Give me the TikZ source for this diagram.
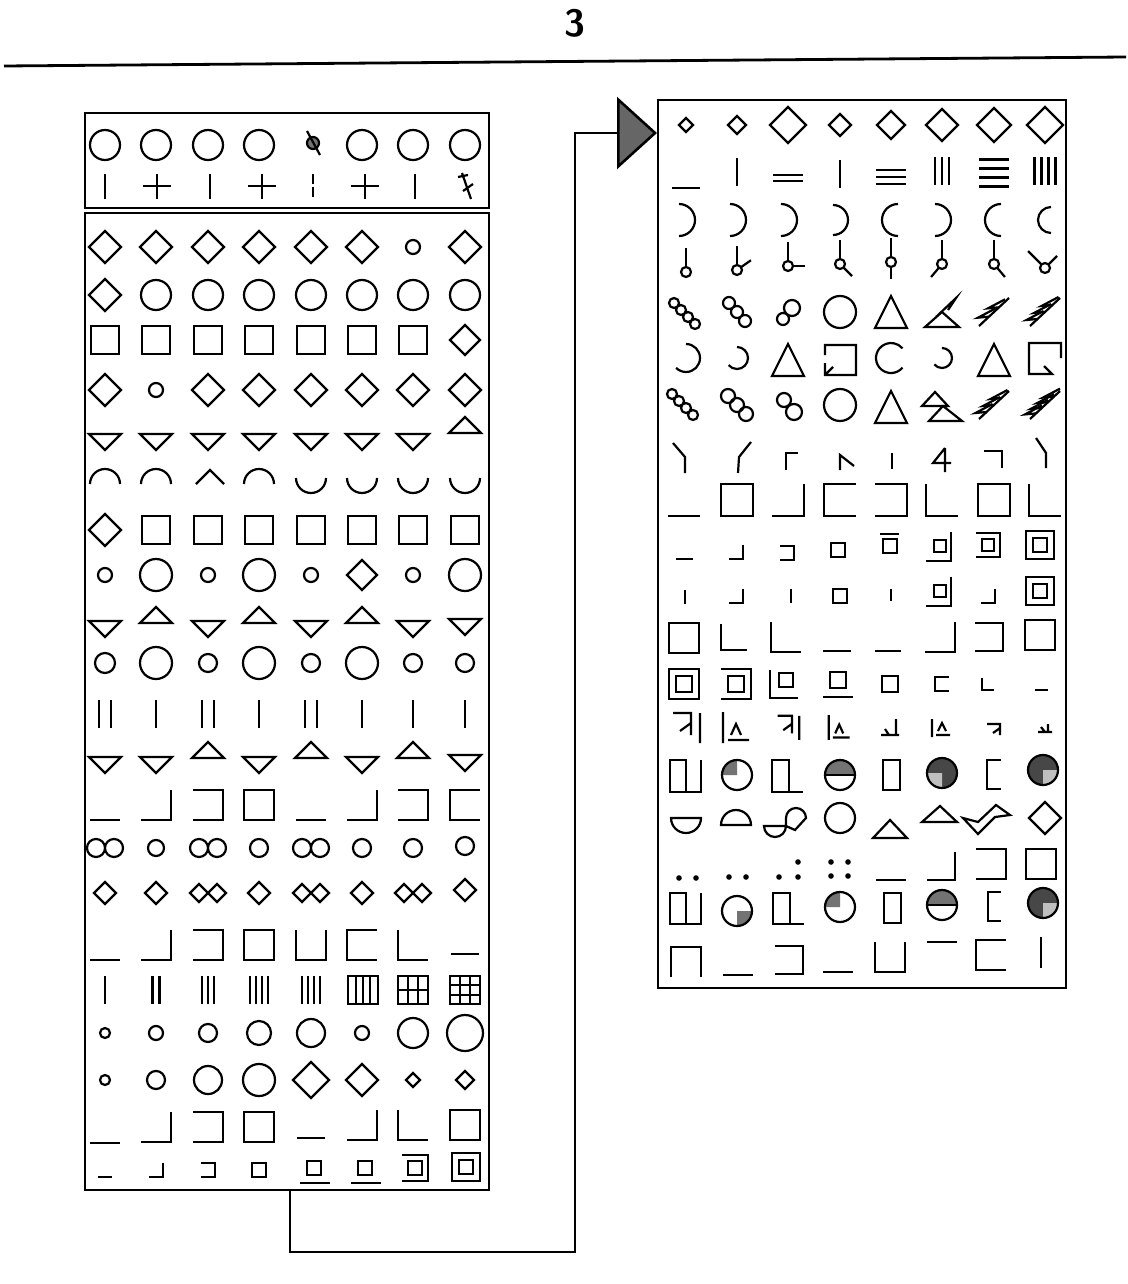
\documentclass[tikz,border=0pt]{standalone}
\usepackage{tikz}
\usetikzlibrary{arrows.meta}
\tikzset{
  frame/.style={line width=1.4pt},
  link/.style={line width=1.3pt,-{Triangle[length=20pt,width=36pt,fill=black!60]}},
  shade1/.style={black!55},
  shade2/.style={black!72},
  pics/dia/.style={code={\draw (-#1,0)--(0,-#1)--(#1,0)--(0,#1)--cycle;}},
  pics/sq/.style={code={\draw (-#1,-#1) rectangle (#1,#1);}},
  pics/ring/.style={code={\draw (0,0) circle[radius=#1];}},
  pics/tdn/.style={code={\draw (-#1,-#1/2)--(#1,-#1/2)--(0,#1/2)--cycle;}},
  pics/tup/.style={code={\draw (-#1,#1/2)--(#1,#1/2)--(0,-#1/2)--cycle;}},
  pics/tri/.style={code={\draw (-#1,#1)--(#1,#1)--(0,-#1)--cycle;}},
  pics/bot/.style={code={\draw (-#1,#1)--(#1,#1);}},
  pics/botr/.style={code={\draw (-#1,#1)--(#1,#1)--(#1,-#1);}},
  pics/ell/.style={code={\draw (-#1,-#1)--(-#1,#1)--(#1,#1);}},
  pics/opl/.style={code={\draw (-#1,-#1)--(#1,-#1)--(#1,#1)--(-#1,#1);}},
  pics/opr/.style={code={\draw (#1,-#1)--(-#1,-#1)--(-#1,#1)--(#1,#1);}},
  pics/opt/.style={code={\draw (-#1,-#1)--(-#1,#1)--(#1,#1)--(#1,-#1);}},
  pics/opb/.style={code={\draw (-#1,#1)--(-#1,-#1)--(#1,-#1)--(#1,#1);}},
  pics/twin/.style={code={\draw (-#1,0) circle[radius=#1] (#1,0) circle[radius=#1];}},
  pics/twindia/.style={code={\draw (-2*#1,0)--(-#1,-#1)--(0,0)--(-#1,#1)--cycle (0,0)--(#1,-#1)--(2*#1,0)--(#1,#1)--cycle;}},
  pics/vbars/.style 2 args={code={\foreach \k in {1,...,#1}{\draw ({(\k-(#1+1)/2)*#2},-14)--({(\k-(#1+1)/2)*#2},14);}}},
  pics/hbars/.style 2 args={code={\foreach \k in {1,...,#1}{\draw (-15,{(\k-(#1+1)/2)*#2})--(15,{(\k-(#1+1)/2)*#2});}}},
  pics/stick/.style 2 args={code={\draw (0,0) circle[radius=5]; \draw (#1:5)--(#1:24); \draw (#2:5)--(#2:17);}},
  pics/saw/.style={code={\draw (-15,14)--(15,-14); \foreach \k in {1,...,#1}{\draw ({-15+\k*30/(#1+1)},{14-\k*28/(#1+1)})--++(-11,1)--++(17,-9);}}},
}
\begin{document}
\begin{tikzpicture}[x=.5pt,y=-.5pt,line width=1.1pt]
\path[use as bounding box] (0,0) rectangle (1128,1284);
\node[font=\sffamily\bfseries\fontsize{19}{20}\selectfont] (pagenum) at (575,23) {3};
\draw[frame] (4,66)--(1126,57);

\draw[frame] (85,113) rectangle (489,208);
\draw[frame] (85,213) rectangle (489,1190);
\draw[frame] (658,100) rectangle (1066,988);

\coordinate (leftfoot) at (290,1190);
\coordinate (rightentry) at (657,133);
\draw[link] (leftfoot) |- (575,1252) -- (575,133) -- (rightentry);

\pic at (105,145) {ring=15}; \pic at (156,145) {ring=15}; \pic at (208,145) {ring=15}; \pic at (259,145) {ring=15};
\fill[shade1] (313,143) circle[radius=6]; \draw (313,143) circle[radius=6]; \draw (307,131)--(320,155);
\pic at (362,145) {ring=15}; \pic at (413,145) {ring=15}; \pic at (465,145) {ring=15};
\draw (105,174)--(105,199);
\draw (143,186)--(171,186) (157,174)--(157,199);
\draw (210,174)--(210,199);
\draw (248,186)--(276,186) (262,174)--(262,199);
\draw[dash pattern=on 5pt off 1.5pt] (313,174)--(313,199);
\draw[line width=1.4pt] (415,174)--(415,199);
\draw (351,186)--(379,186) (365,174)--(365,199);
\draw (462,173)--(471,199) (458,177)--(468,175) (463,191)--(473,184);

\pic at (105,247) {dia=16}; \pic at (156,247) {dia=16}; \pic at (208,247) {dia=16}; \pic at (259,247) {dia=16};
\pic at (311,247) {dia=16}; \pic at (362,247) {dia=16}; \pic at (413,247) {ring=7}; \pic at (465,247) {dia=16};

\pic at (105,295) {dia=16}; \pic at (156,295) {ring=15}; \pic at (208,295) {ring=15}; \pic at (259,295) {ring=15};
\pic at (311,295) {ring=15}; \pic at (362,295) {ring=15}; \pic at (413,295) {ring=15}; \pic at (465,295) {ring=15};

\pic at (105,340) {sq=14}; \pic at (156,340) {sq=14}; \pic at (208,340) {sq=14}; \pic at (259,340) {sq=14};
\pic at (311,340) {sq=14}; \pic at (362,340) {sq=14}; \pic at (413,340) {sq=14}; \pic at (465,340) {dia=15};

\pic at (105,390) {dia=16}; \pic at (156,390) {ring=7}; \pic at (208,390) {dia=16}; \pic at (259,390) {dia=16};
\pic at (311,390) {dia=16}; \pic at (362,390) {dia=16}; \pic at (413,390) {dia=16}; \pic at (465,390) {dia=16};

\pic at (105,442) {tdn=16}; \pic at (156,442) {tdn=16}; \pic at (208,442) {tdn=16}; \pic at (259,442) {tdn=16};
\pic at (311,442) {tdn=16}; \pic at (362,442) {tdn=16}; \pic at (413,442) {tdn=16}; \pic at (465,425) {tup=16};

\draw (90,484) arc[start angle=180,end angle=360,radius=15];
\draw (141,484) arc[start angle=180,end angle=360,radius=15];
\draw (196,484)--(210,470)--(224,484);
\draw (244,484) arc[start angle=180,end angle=360,radius=15];
\draw (296,478) arc[start angle=180,end angle=0,radius=15];
\draw (347,478) arc[start angle=180,end angle=0,radius=15];
\draw (398,478) arc[start angle=180,end angle=0,radius=15];
\draw (450,478) arc[start angle=180,end angle=0,radius=15];

\pic at (105,530) {dia=16}; \pic at (156,530) {sq=14}; \pic at (208,530) {sq=14}; \pic at (259,530) {sq=14};
\pic at (311,530) {sq=14}; \pic at (362,530) {sq=14}; \pic at (413,530) {sq=14}; \pic at (465,530) {sq=14};

\pic at (105,575) {ring=7}; \pic at (156,575) {ring=16}; \pic at (208,575) {ring=7}; \pic at (259,575) {ring=16};
\pic at (311,575) {ring=7}; \pic at (362,575) {dia=15}; \pic at (413,575) {ring=7}; \pic at (465,575) {ring=16};

\pic at (105,629) {tdn=16}; \pic at (156,615) {tup=16}; \pic at (208,629) {tdn=16}; \pic at (259,615) {tup=16};
\pic at (311,629) {tdn=16}; \pic at (362,615) {tup=16}; \pic at (413,629) {tdn=16}; \pic at (465,627) {tdn=16};

\pic at (105,663) {ring=10}; \pic at (156,663) {ring=16}; \pic at (208,663) {ring=9}; \pic at (259,663) {ring=16};
\pic at (311,663) {ring=9}; \pic at (362,663) {ring=16}; \pic at (413,663) {ring=9}; \pic at (465,663) {ring=9};

\pic at (105,714) {vbars={2}{12}}; \pic at (156,714) {vbars={1}{1}}; \pic at (208,714) {vbars={2}{12}}; \pic at (259,714) {vbars={1}{1}};
\pic at (311,714) {vbars={2}{12}}; \pic at (362,714) {vbars={1}{1}}; \pic at (413,714) {vbars={1}{1}}; \pic at (465,714) {vbars={1}{1}};

\pic at (105,765) {tdn=16}; \pic at (156,765) {tdn=16}; \pic at (208,750) {tup=16}; \pic at (259,765) {tdn=16};
\pic at (311,750) {tup=16}; \pic at (362,765) {tdn=16}; \pic at (413,750) {tup=16}; \pic at (465,763) {tdn=16};

\pic at (105,805) {bot=15}; \pic at (156,805) {botr=15}; \pic at (208,805) {opl=15}; \pic at (259,805) {sq=15};
\pic at (311,805) {bot=15}; \pic at (362,805) {botr=15}; \pic at (413,805) {opl=15}; \pic at (465,805) {opr=15};

\pic at (105,848) {twin=9}; \pic at (156,848) {ring=8}; \pic at (208,848) {twin=9}; \pic at (259,848) {ring=9};
\pic at (311,848) {twin=9}; \pic at (362,848) {ring=9}; \pic at (413,848) {ring=9}; \pic at (465,846) {ring=9};

\pic at (105,893) {dia=11}; \pic at (156,893) {dia=11}; \pic at (208,893) {twindia=9}; \pic at (259,893) {dia=11};
\pic at (311,893) {twindia=9}; \pic at (362,893) {dia=11}; \pic at (413,893) {twindia=9}; \pic at (465,890) {dia=11};

\pic at (105,945) {bot=15}; \pic at (156,945) {botr=15}; \pic at (208,945) {opl=15}; \pic at (259,945) {sq=15};
\pic at (311,945) {opt=15}; \pic at (362,945) {opr=15}; \pic at (413,945) {ell=15}; \pic at (465,940) {bot=14};

\pic at (105,990) {vbars={1}{1}}; \pic at (156,990) {vbars={2}{7}}; \pic at (208,990) {vbars={3}{6}};
\pic at (259,990) {vbars={4}{6}}; \pic at (311,990) {vbars={4}{6}};
\draw (348,976) rectangle (378,1004); \draw (356,976)--(356,1004) (363,976)--(363,1004) (370,976)--(370,1004);
\draw (398,976) rectangle (428,1004); \draw (408,976)--(408,1004) (418,976)--(418,1004) (398,990)--(428,990);
\draw (450,976) rectangle (480,1004); \draw (460,976)--(460,1004) (470,976)--(470,1004) (450,985)--(480,985) (450,995)--(480,995);

\pic at (105,1033) {ring=5}; \pic at (156,1033) {ring=7}; \pic at (208,1033) {ring=9}; \pic at (259,1033) {ring=12};
\pic at (311,1033) {ring=14}; \pic at (362,1033) {ring=7}; \pic at (413,1033) {ring=15}; \pic at (465,1033) {ring=18};

\pic at (105,1080) {ring=5}; \pic at (156,1080) {ring=9}; \pic at (208,1080) {ring=14}; \pic at (259,1080) {ring=16};
\pic at (311,1080) {dia=18}; \pic at (362,1080) {dia=16}; \pic at (413,1080) {dia=7}; \pic at (465,1080) {dia=9};

\pic at (105,1128) {bot=15}; \pic at (156,1127) {botr=15}; \pic at (208,1127) {opl=15}; \pic at (259,1127) {sq=15};
\pic at (311,1124) {bot=14}; \pic at (362,1125) {botr=15}; \pic at (413,1125) {ell=15}; \pic at (465,1125) {sq=15};

\pic at (105,1170) {bot=7}; \pic at (156,1170) {botr=7}; \pic at (208,1170) {opl=7}; \pic at (259,1170) {sq=7};
\pic at (314,1168) {sq=7}; \draw (300,1183)--(330,1183);
\pic at (365,1168) {sq=7}; \draw (351,1183)--(381,1183);
\pic at (415,1168) {sq=7}; \pic at (415,1168) {opl=13};
\pic at (466,1167) {sq=7}; \pic at (466,1167) {sq=14};

\pic at (686,125) {dia=7}; \pic at (737,125) {dia=9}; \pic at (788,125) {dia=18}; \pic at (840,125) {dia=11};
\pic at (891,125) {dia=14}; \pic at (942,125) {dia=16}; \pic at (994,125) {dia=17}; \pic at (1045,125) {dia=18};

\draw (672,188)--(700,188);
\pic at (737,172) {vbars={1}{1}}; \pic at (788,178) {hbars={2}{6}}; \pic at (840,174) {vbars={1}{1}};
\pic at (891,177) {hbars={3}{7}}; \pic at (942,171) {vbars={3}{7}}; \pic at (994,173) {hbars={4}{9}};
\pic at (1045,171) {vbars={4}{7}};

\draw (679,204) arc[start angle=-90,end angle=90,radius=16];
\draw (730,204) arc[start angle=-90,end angle=90,radius=16];
\draw (781,204) arc[start angle=-90,end angle=90,radius=16];
\draw (833,205) arc[start angle=-90,end angle=90,radius=15];
\draw (898,204) arc[start angle=270,end angle=90,radius=16];
\draw (935,204) arc[start angle=-90,end angle=90,radius=16];
\draw (1001,204) arc[start angle=270,end angle=90,radius=16];
\draw (1051,207) arc[start angle=270,end angle=90,radius=13];

\pic at (686,272) {stick={-90}{-90}}; \pic at (737,270) {stick={-90}{-35}};
\pic at (788,266) {stick={-90}{0}}; \pic at (840,264) {stick={-90}{45}};
\pic at (891,262) {stick={-90}{90}}; \pic at (942,264) {stick={-90}{130}};
\pic at (994,264) {stick={-90}{50}}; \pic at (1045,268) {stick={-135}{-45}};

\draw (674,303) circle[radius=5] (681,310) circle[radius=5] (688,317) circle[radius=5] (695,324) circle[radius=5];
\draw (729,303) circle[radius=6] (737,312) circle[radius=6] (745,321) circle[radius=6];
\draw (783,319) circle[radius=6] (792,308) circle[radius=8];
\pic at (840,312) {ring=16}; \pic at (891,312) {tri=16};
\draw[shift={(942,312)}] (-17,15)--(17,15)--(0,0)--cycle (-6,5)--(14,-14)--(6,-2);
\pic at (994,312) {saw=2}; \pic at (1045,312) {saw=3};

\draw (686,344) arc[start angle=-90,end angle=135,radius=14];
\draw (737,347) arc[start angle=-90,end angle=140,radius=11];
\pic at (788,360) {tri=16};
\draw[shift={(840,359)}] (-15,-4)--(-15,-14)--(16,-14)--(16,16)--(-15,16)--(-15,4) (-15,16)--(-7,8);
\draw ([shift={(40:15)}]891,358) arc[start angle=40,end angle=320,radius=15];
\draw (942,348) arc[start angle=-90,end angle=140,radius=10];
\pic at (994,360) {tri=16};
\draw[shift={(1045,358)}] (16,0)--(16,-15)--(-16,-15)--(-16,16)--(7,16)--(-1,8);

\draw (672,394) circle[radius=5] (679,401) circle[radius=5] (686,408) circle[radius=5] (693,415) circle[radius=5];
\draw (728,396) circle[radius=7] (737,405) circle[radius=7] (746,414) circle[radius=7];
\draw (784,400) circle[radius=7] (794,412) circle[radius=8];
\pic at (840,405) {ring=16}; \pic at (891,407) {tri=16};
\draw[shift={(942,405)}] (-20,1)--(6,1)--(-7,-13)--cycle (-13,16)--(20,16)--(1,1)--cycle;
\pic at (994,405) {saw=3}; \pic at (1045,405) {saw=4};

\draw[shift={(686,455)}] (-13,-12)--(-1,2)--(-1,18);
\draw[shift={(737,455)}] (14,-13)--(2,2)--(1,18);
\draw[shift={(788,455)}] (-2,15)--(-2,-2)--(10,-2);
\draw[shift={(840,455)}] (0,15)--(0,0)--(14,11);
\draw[shift={(891,455)}] (1,-2)--(1,14);
\draw[shift={(942,455)}] (3,-7)--(-9,8)--(9,8) (3,-7)--(3,17);
\draw[shift={(994,455)}] (-10,-4)--(8,-4)--(8,13);
\draw[shift={(1045,455)}] (-9,-17)--(1,-2)--(1,13);

\pic at (684,500) {bot=16}; \pic at (737,500) {sq=16}; \pic at (788,500) {botr=16}; \pic at (840,500) {opr=16};
\pic at (891,500) {opl=16}; \pic at (942,500) {ell=16}; \pic at (994,500) {sq=16}; \pic at (1045,500) {ell=16};

\draw (676,559)--(693,559);
\pic at (736,552) {botr=7}; \pic at (787,553) {opl=7}; \pic at (838,550) {sq=7};
\pic at (890,546) {sq=7}; \draw (880,534)--(899,534);
\pic at (940,546) {sq=6}; \draw (926,561)--(951,561)--(951,532);
\pic at (988,545) {sq=6}; \pic at (988,545) {opl=12};
\pic at (1040,545) {sq=7}; \pic at (1040,545) {sq=14};

\draw (685,590)--(685,604);
\pic at (736,596) {botr=7};
\draw (791,589)--(791,603);
\pic at (840,596) {sq=7};
\draw (891,589)--(891,601);
\pic at (940,591) {sq=6}; \draw (926,606)--(951,606)--(951,577);
\pic at (988,596) {botr=7};
\pic at (1040,591) {sq=7}; \pic at (1040,591) {sq=14};

\pic at (684,638) {sq=15}; \pic at (734,637) {ell=13}; \pic at (786,637) {ell=15}; \pic at (837,637) {bot=14};
\pic at (888,638) {bot=13}; \pic at (940,637) {botr=15}; \pic at (989,637) {opl=14}; \pic at (1040,635) {sq=15};

\pic at (684,684) {sq=15}; \pic at (684,684) {sq=8};
\pic at (736,684) {opl=15}; \pic at (736,684) {sq=8};
\pic at (784,684) {ell=14}; \pic at (786,680) {sq=7};
\pic at (838,680) {sq=8}; \draw (823,697)--(853,697);
\pic at (890,684) {sq=8}; \pic at (942,684) {opr=7}; \pic at (988,684) {ell=6};
\draw (1035,690)--(1048,690);

\draw[shift={(686,727)}] (-13,-14)--(5,-14)--(5,8) (-6,4)--(5,-4) (14,-14)--(14,16);
\draw[shift={(737,727)}] (-14,-15)--(-14,16) (-9,13)--(12,13) (-6,8)--(-1,-3)--(4,8);
\draw[shift={(788,727)},scale=.8] (-13,-14)--(5,-14)--(5,8) (-6,4)--(5,-4) (14,-14)--(14,16);
\draw[shift={(840,727)},scale=.8] (-14,-15)--(-14,16) (-9,13)--(12,13) (-6,8)--(-1,-3)--(4,8);
\draw[shift={(891,727)}] (-10,8)--(8,8) (5,-8)--(5,8) (-6,2)--(-2,8);
\draw[shift={(942,727)}] (-10,-8)--(-10,10) (-6,8)--(8,8) (-4,4)--(0,-4)--(4,4);
\draw[shift={(994,727)}] (-7,-3)--(6,-3)--(6,8) (-1,6)--(6,1);
\draw[shift={(1045,727)}] (-7,5)--(7,5) (3,-3)--(3,5) (-4,0)--(0,5);

\draw (670,760) rectangle (686,792); \draw (686,792)--(701,792)--(701,760);
\fill[shade1] (737,775)--(722,775) arc[start angle=180,end angle=270,radius=15]--cycle; \draw (737,775) circle[radius=15];
\draw (772,760) rectangle (789,792); \draw (789,792)--(803,792);
\fill[shade1] (825,775) arc[start angle=180,end angle=360,radius=15]--cycle; \draw (840,775) circle[radius=15]; \draw (825,775)--(855,775);
\draw (883,760) rectangle (900,790);
\fill[shade2] (942,773) circle[radius=15]; \fill[black!25] (942,773)--(927,773) arc[start angle=180,end angle=90,radius=15]--cycle; \draw (942,773) circle[radius=15];
\draw (1001,760)--(987,760)--(987,789)--(1001,789);
\fill[shade2] (1043,770) circle[radius=15]; \fill[black!25] (1043,770)--(1058,770) arc[start angle=0,end angle=90,radius=15]--cycle; \draw (1043,770) circle[radius=15];

\draw (671,818)--(701,818) arc[start angle=0,end angle=180,radius=15]--cycle;
\draw (721,825)--(751,825) arc[start angle=0,end angle=-180,radius=15]--cycle;
\draw (764,826) arc[start angle=180,end angle=0,radius=11]--(786,818) arc[start angle=180,end angle=360,radius=10]--(806,818)--(795,830)--(786,826)--cycle;
\pic at (840,818) {ring=15};
\draw (873,838)--(907,838)--(890,820)--cycle;
\draw (922,822)--(957,822)--(940,806)--cycle;
\draw (963,818)--(978,834)--(995,817)--(1010,815)--(996,805)--(978,822)--cycle;
\pic at (1045,818) {dia=16};

\fill (679,878) circle[radius=2.8] (696,878) circle[radius=2.8];
\fill (729,877) circle[radius=2.8] (746,877) circle[radius=2.8];
\fill (779,877) circle[radius=2.8] (798,877) circle[radius=2.8] (798,862) circle[radius=2.8];
\fill (831,862) circle[radius=2.8] (848,862) circle[radius=2.8] (831,876) circle[radius=2.8] (848,876) circle[radius=2.8];
\draw (876,880)--(906,880);
\pic at (941,866) {botr=14}; \pic at (991,864) {opl=15}; \pic at (1041,864) {sq=15};

\draw (670,893) rectangle (686,924); \draw (686,924)--(701,924)--(701,893);
\fill[shade1] (737,911)--(752,911) arc[start angle=0,end angle=90,radius=15]--cycle; \draw (737,911) circle[radius=15];
\draw (773,893) rectangle (790,924); \draw (790,924)--(804,924);
\fill[shade1] (840,907)--(825,907) arc[start angle=180,end angle=270,radius=15]--cycle; \draw (840,907) circle[radius=15];
\draw (884,893) rectangle (901,923);
\fill[shade1] (927,905) arc[start angle=180,end angle=360,radius=15]--cycle; \draw (942,905) circle[radius=15]; \draw (927,905)--(957,905);
\draw (1001,892)--(988,892)--(988,921)--(1001,921);
\fill[shade2] (1043,903) circle[radius=15]; \fill[black!25] (1043,903)--(1058,903) arc[start angle=0,end angle=90,radius=15]--cycle; \draw (1043,903) circle[radius=15];

\pic at (686,962) {opb=15};
\draw (723,975)--(753,975);
\pic at (789,960) {opl=14};
\draw (823,972)--(853,972);
\pic at (890,957) {opt=15};
\draw (927,942)--(957,942);
\pic at (991,955) {opr=15};
\draw (1041,937)--(1041,968);
\end{tikzpicture}
\end{document}
